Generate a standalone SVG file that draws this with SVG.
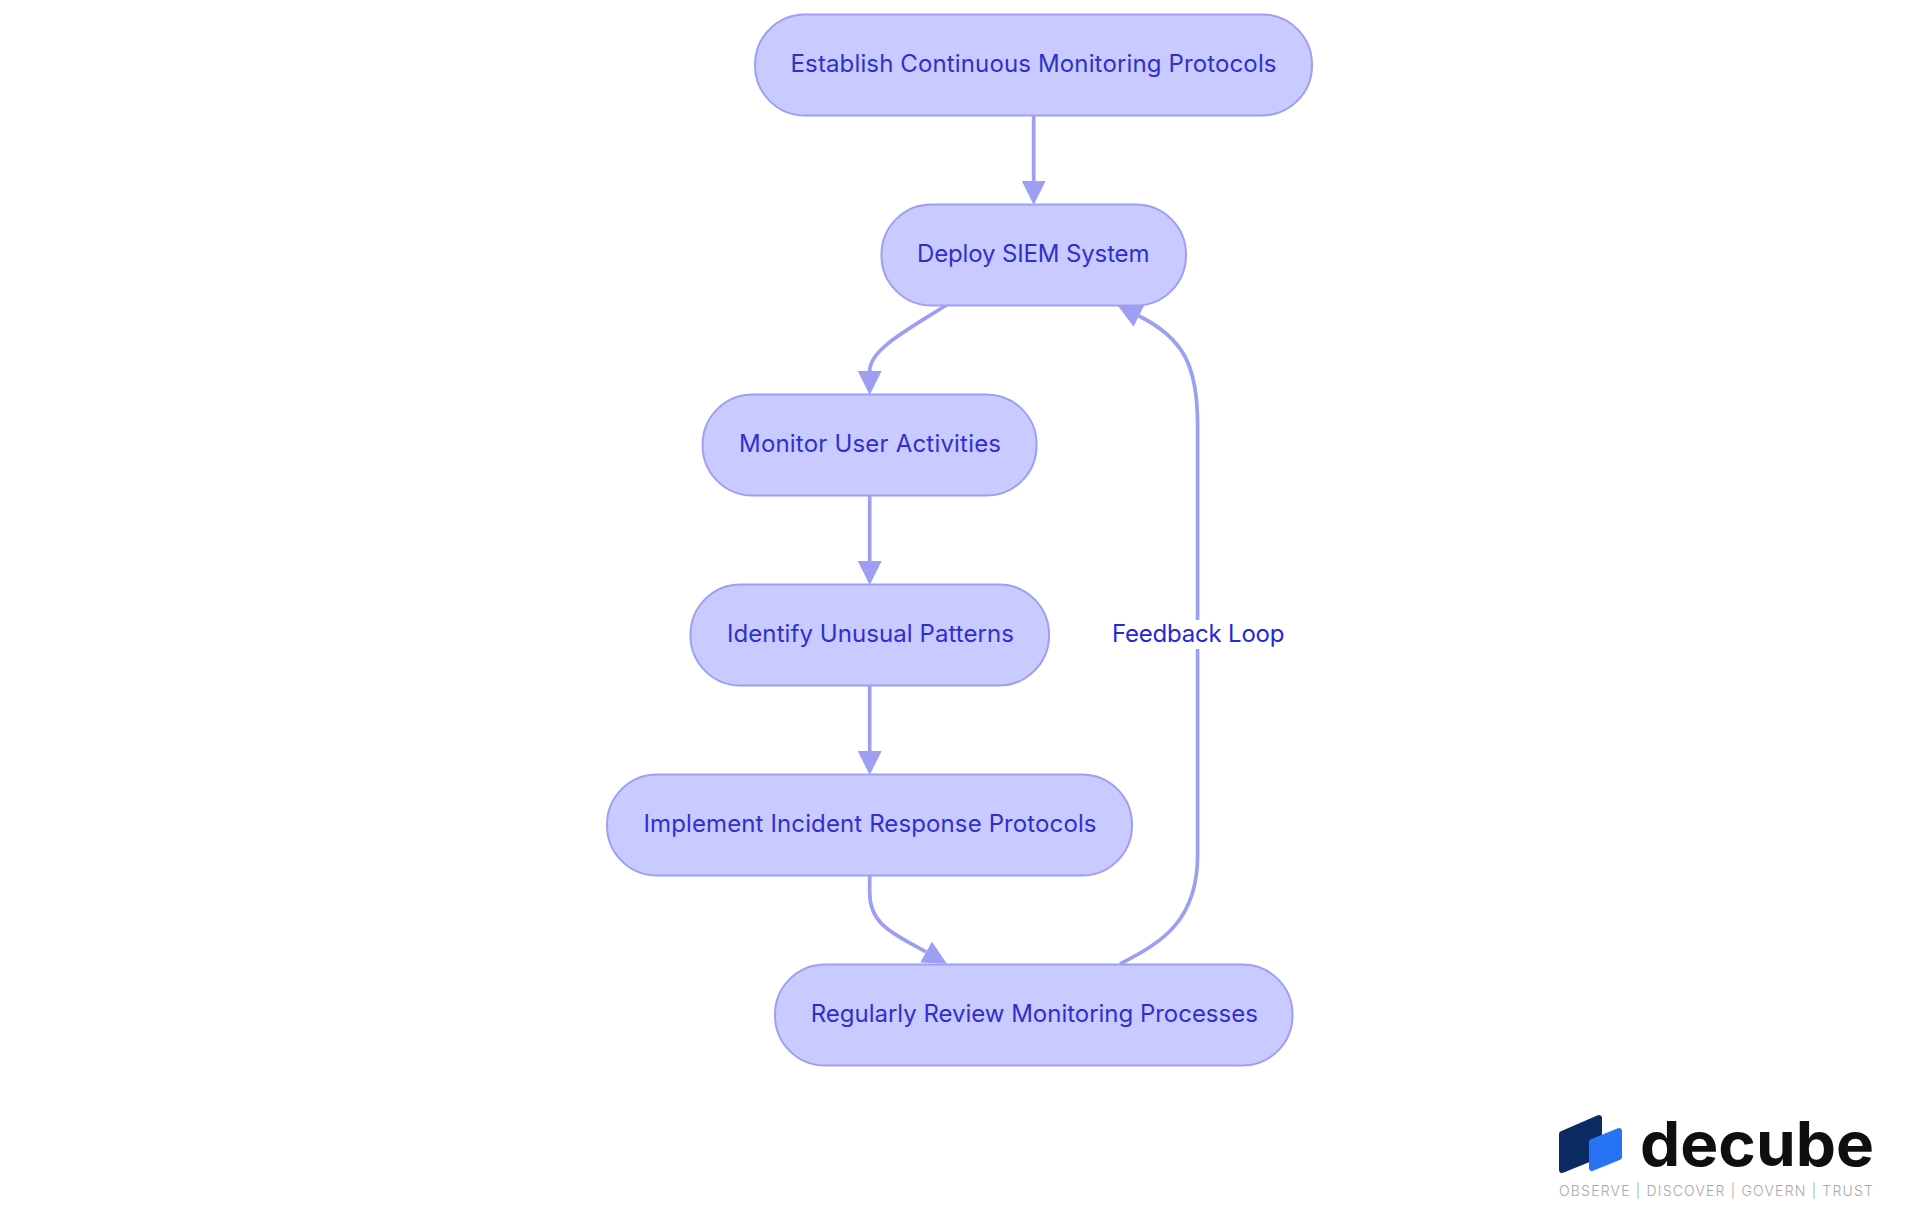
<svg xmlns="http://www.w3.org/2000/svg" width="1920" height="1215" viewBox="0 0 1920 1215">
<style>
.n{fill:#c9caff;stroke:#9d9ff2;stroke-width:2}
.t{font-family:"Inter","Noto Sans",sans-serif;font-size:24px;font-weight:400;fill:#2f2fd0}
.l{fill:#2626da}
.e{fill:none;stroke:#9d9ff2;stroke-width:3.7}
</style>
<defs>
<marker id="arrow" markerUnits="userSpaceOnUse" markerWidth="24" markerHeight="24" viewBox="0 0 24 24" refX="0" refY="12" orient="auto"><path d="M0,0L24,12L0,24z" fill="#9d9ff2"/></marker>
</defs>
<rect width="1920" height="1215" fill="#fff"/>
<g id="connectors">
<path class="e" marker-end="url(#arrow)" d="M1033.7,115L1033.7,181"/>
<path class="e" marker-end="url(#arrow)" d="M946.5,305C904,332 869.7,350 869.7,371"/>
<path class="e" marker-end="url(#arrow)" d="M869.7,495L869.7,561"/>
<path class="e" marker-end="url(#arrow)" d="M869.7,685L869.7,751"/>
<path class="e" marker-end="url(#arrow)" d="M869.7,875L869.7,893C869.7,925 894,934 926,952"/>
<path class="e" marker-end="url(#arrow)" d="M1120,964C1163,942 1197.6,920 1197.6,855L1197.6,425C1197.6,365 1183,338 1139,316"/>
</g>
<g id="edge-label">
<rect x="1112" y="620" width="172.5" height="29" fill="#fff"/>
<text class="t l" x="1112" y="642" textLength="172.5">Feedback Loop</text>
</g>
<g id="node-1"><rect class="n" x="755" y="14.5" width="557" height="101" rx="50" ry="50"/><text class="t" x="790.5" y="72" textLength="486">Establish Continuous Monitoring Protocols</text></g>
<g id="node-2"><rect class="n" x="881.5" y="204.5" width="304.5" height="101" rx="50" ry="50"/><text class="t" x="917" y="262" textLength="232.5">Deploy SIEM System</text></g>
<g id="node-3"><rect class="n" x="702.6" y="394.5" width="334" height="101" rx="50" ry="50"/><text class="t" x="739" y="452" textLength="262">Monitor User Activities</text></g>
<g id="node-4"><rect class="n" x="690.5" y="584.5" width="358.5" height="101" rx="50" ry="50"/><text class="t" x="727" y="642" textLength="287">Identify Unusual Patterns</text></g>
<g id="node-5"><rect class="n" x="607" y="774.5" width="525" height="101" rx="50" ry="50"/><text class="t" x="643.5" y="832" textLength="453">Implement Incident Response Protocols</text></g>
<g id="node-6"><rect class="n" x="775" y="964.5" width="517.5" height="101" rx="50" ry="50"/><text class="t" x="810.8" y="1022" textLength="447">Regularly Review Monitoring Processes</text></g>
<g id="logo">
<path d="M1562,1134L1599,1118V1155L1562,1170Z" fill="#0d2b63" stroke="#0d2b63" stroke-width="6" stroke-linejoin="round"/>
<path d="M1592,1142L1619,1131V1157L1592,1168Z" fill="#2673f5" stroke="#2673f5" stroke-width="6" stroke-linejoin="round"/>
<text x="1640" y="1166" textLength="234" lengthAdjust="spacingAndGlyphs" style="font-family:Inter,sans-serif;font-size:62px;font-weight:700;fill:#0f0f0f">decube</text>
<text x="1559" y="1196" textLength="314" style="font-family:Inter,sans-serif;font-size:14px;font-weight:300;fill:#a8a8a8">OBSERVE | DISCOVER | GOVERN | TRUST</text>
</g>
</svg>
